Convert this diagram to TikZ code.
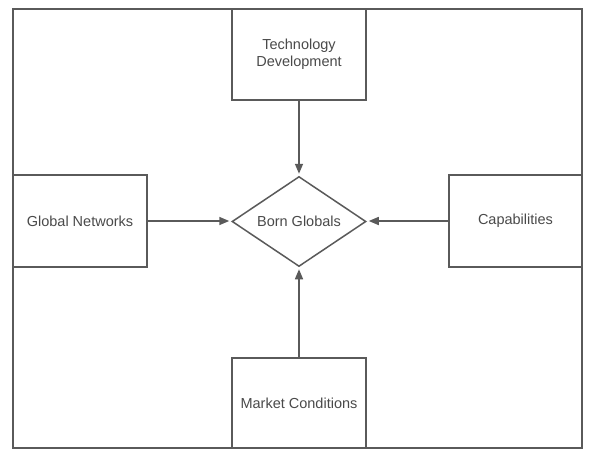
\documentclass[tikz,border=0pt]{standalone}
\usepackage{fontspec}
\setmainfont{Liberation Sans}
\usetikzlibrary{shapes.geometric,arrows.meta}
\definecolor{linegray}{HTML}{5A5A5A}
\definecolor{textgray}{HTML}{4A4A4A}
\begin{document}
\begin{tikzpicture}[x=1pt,y=-1pt,
  box/.style={draw=linegray,line width=1.5pt,rectangle,inner sep=0pt,align=center,
    text=textgray,font=\fontsize{14.5}{17.5}\selectfont},
  hub/.style={draw=linegray,line width=1.5pt,diamond,aspect=1.49,inner sep=0pt,
    minimum width=134pt,minimum height=90pt,text=textgray,font=\fontsize{14.5}{17.5}\selectfont},
  conn/.style={draw=linegray,line width=1.5pt,-{Triangle[length=10pt,width=8pt]},shorten >=2pt}]
\useasboundingbox (0,0) rectangle (589,455);
\fill[white] (0,0) rectangle (589,455);
\node[draw=linegray,line width=1.5pt,rectangle,inner sep=0pt,minimum width=569pt,minimum height=439pt] (frame) at (297.5,228.5) {};
\node[box,minimum width=134pt,minimum height=91pt] (tech) at (299,54.5) {Technology\\Development};
\node[box,minimum width=134pt,minimum height=92pt] (net) at (80,221) {Global Networks};
\node[box,minimum width=133pt,minimum height=92pt] (cap) at (515.5,221) {Capabilities};
\node[box,minimum width=134pt,minimum height=90pt] (mkt) at (299,403) {Market Conditions};
\node[hub] (born) at (299,221.5) {Born Globals};
\draw[conn] (tech) -- (born.north);
\draw[conn] (net) -- (net -| born.west);
\draw[conn] (cap) -- (cap -| born.east);
\draw[conn] (mkt) -- (born.south);
\end{tikzpicture}
\end{document}
